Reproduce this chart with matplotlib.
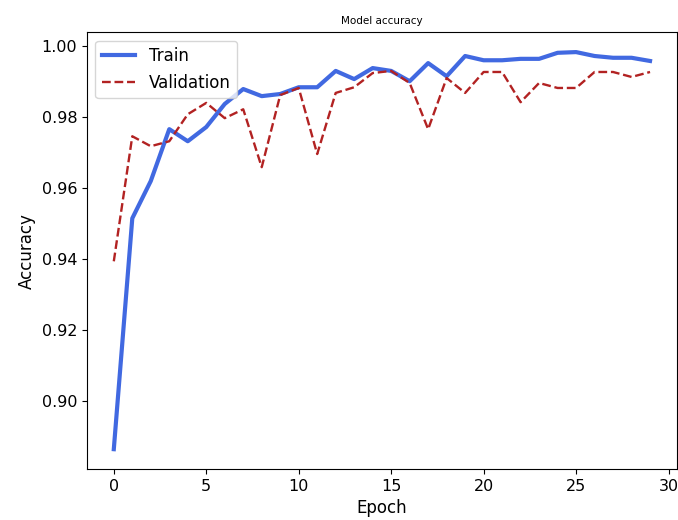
import matplotlib
matplotlib.use("Agg")
import matplotlib.pyplot as plt
import numpy as np

epochs = np.arange(30)
train_acc = [0.8865, 0.9515, 0.9620, 0.9766, 0.9732, 0.9772, 0.9837, 0.9879, 0.9859, 0.9865,
             0.9884, 0.9884, 0.9930, 0.9907, 0.9938, 0.9930, 0.9901, 0.9952, 0.9915, 0.9972,
             0.9960, 0.9960, 0.9964, 0.9964, 0.9981, 0.9983, 0.9972, 0.9967, 0.9967, 0.9958]
val_acc = [0.9394, 0.9746, 0.9718, 0.9732, 0.9808, 0.9840, 0.9797, 0.9822, 0.9659, 0.9862,
           0.9882, 0.9696, 0.9868, 0.9884, 0.9924, 0.9930, 0.9896, 0.9766, 0.9910, 0.9868,
           0.9927, 0.9927, 0.9842, 0.9896, 0.9882, 0.9882, 0.9927, 0.9927, 0.9913, 0.9927]

fig = plt.figure(figsize=(6.78, 5.2), dpi=100)
ax = fig.add_axes([0.1283, 0.098, 0.870, 0.840])
ax.plot(epochs, train_acc, color='royalblue', linewidth=3, label='Train')
ax.plot(epochs, val_acc, color='firebrick', linestyle='--', linewidth=1.7, label='Validation')
ax.set_title('Model accuracy', fontsize=7.5)
ax.set_xlabel('Epoch', fontsize=12)
ax.set_ylabel('Accuracy', fontsize=12)
ax.tick_params(labelsize=11.5)
ax.legend(loc='upper left', fontsize=12)

fig.savefig('out.png', dpi=100)
